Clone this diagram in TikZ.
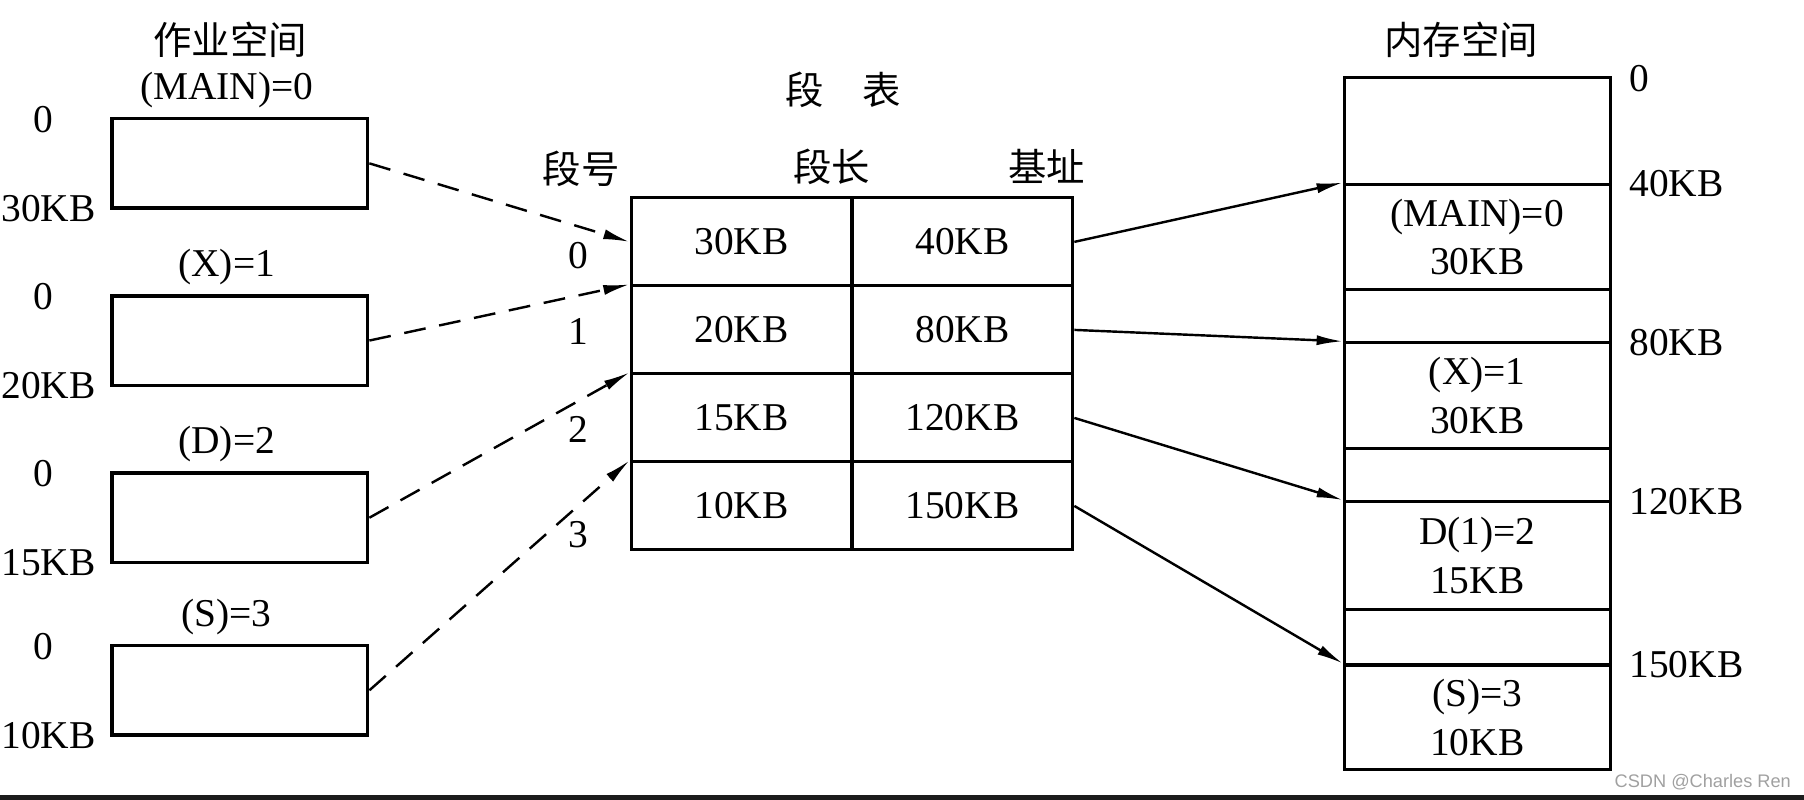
\documentclass[tikz,border=0pt]{standalone}
\usepackage{fontspec}
\setmainfont{Liberation Serif}
\setsansfont{Liberation Sans}
\newfontfamily\cjk{Noto Sans CJK SC}
\usepackage{tikz}
\usetikzlibrary{arrows.meta,positioning}
\definecolor{markgray}{RGB}{160,160,160}
\definecolor{barblack}{RGB}{28,28,28}

\tikzset{
  jobbox/.style={draw,line width=1.8pt,minimum width=4.44cm,minimum height=1.56cm,inner sep=0pt},
  cell/.style={draw,line width=1.5pt,minimum width=3.84cm,minimum height=1.53cm,inner sep=0pt},
  memblk/.style={draw,line width=1.5pt,minimum width=4.62cm,inner sep=0pt,align=center},
  txt/.style={inner sep=0pt},
  cjktxt/.style={inner sep=0pt,font=\cjk\fontsize{19}{24}\selectfont},
  maplink/.style={-{Latex[length=13pt,width=5pt]},line width=1.2pt},
  joblink/.style={maplink,dash pattern=on 0.38cm off 0.24cm},
}

\begin{document}
\begin{tikzpicture}[x=0.02cm,y=-0.02cm,font=\fontsize{19.5}{24}\selectfont]
  \useasboundingbox (0,0) rectangle (1568,695);
  % Job spaces
  \node[cjktxt] (jobtitle) at (200,35) {作业空间};
  \foreach \i/\y/\name/\size in {0/142/{(MAIN)=0}/30KB,1/296/{(X)=1}/20KB,2/450/{(D)=2}/15KB,3/600/{(S)=3}/10KB}{
    \node[jobbox] (job\i) at (208.5,\y) {};
    \node[txt] (jobname\i) at (197,\y-64) {\name};
    \node[txt] (jobstart\i) at (38,\y-38) {0};
    \node[txt,anchor=west] (jobend\i) at (1,\y+39) {\size};
  }
  % Segment table
  \node[cjktxt] (tabtitle) at (733,78) {段\quad 表};
  \node[cjktxt] (hnum) at (505,147) {段号};
  \node[cjktxt] (hlen) at (723,145) {段长};
  \node[cjktxt] (hbase) at (910,145) {基址};
  \foreach \i/\len/\base in {0/30KB/40KB,1/20KB/80KB,2/15KB/120KB,3/10KB/150KB}{
    \node[cell] (len\i) at (644.5,210.25+76.5*\i) {\len};
    \node[cell] (base\i) at (836.5,210.25+76.5*\i) {\base};
  }
  \foreach \i/\y in {0/222,1/288,2/373,3/465}
    \node[txt] (segno\i) at (503,\y) {\i};
  % Memory space
  \node[cjktxt] (memtitle) at (1270,35) {内存空间};
  \foreach \nm/\t/\b/\txt in {free0/67/160/{},mem0/160/252/{(MAIN)=0\\30KB},free1/252/298/{},mem1/298/390/{(X)=1\\30KB},free2/390/436/{},mem2/436/530/{D(1)=2\\15KB},free3/530/578/{},mem3/578/669/{(S)=3\\10KB}}
    \node[memblk,minimum height={(\b-\t)*0.02cm}] (\nm) at (1284,{(\t+\b)/2}) {\txt};
  \foreach \y/\addr [count=\k] in {68/0,160/40KB,298/80KB,436/120KB,578/150KB}
    \node[txt,anchor=west] (addr\k) at (1416,\y) {\addr};
  % Links
  \draw[joblink] (job0.east) -- (len0.west);
  \foreach \i in {1,2,3}
    \draw[joblink] (job\i.east) -- (len\i.north west);
  \foreach \i in {0,...,3}
    \draw[maplink] (base\i.east) -- (mem\i.north west);
  \node[font=\sffamily\fontsize{9}{10}\selectfont,text=markgray,inner sep=0pt] (mark) at (1480,680) {CSDN @Charles Ren};
  \fill[barblack] (0,691) rectangle (1568,695);
\end{tikzpicture}
\end{document}
